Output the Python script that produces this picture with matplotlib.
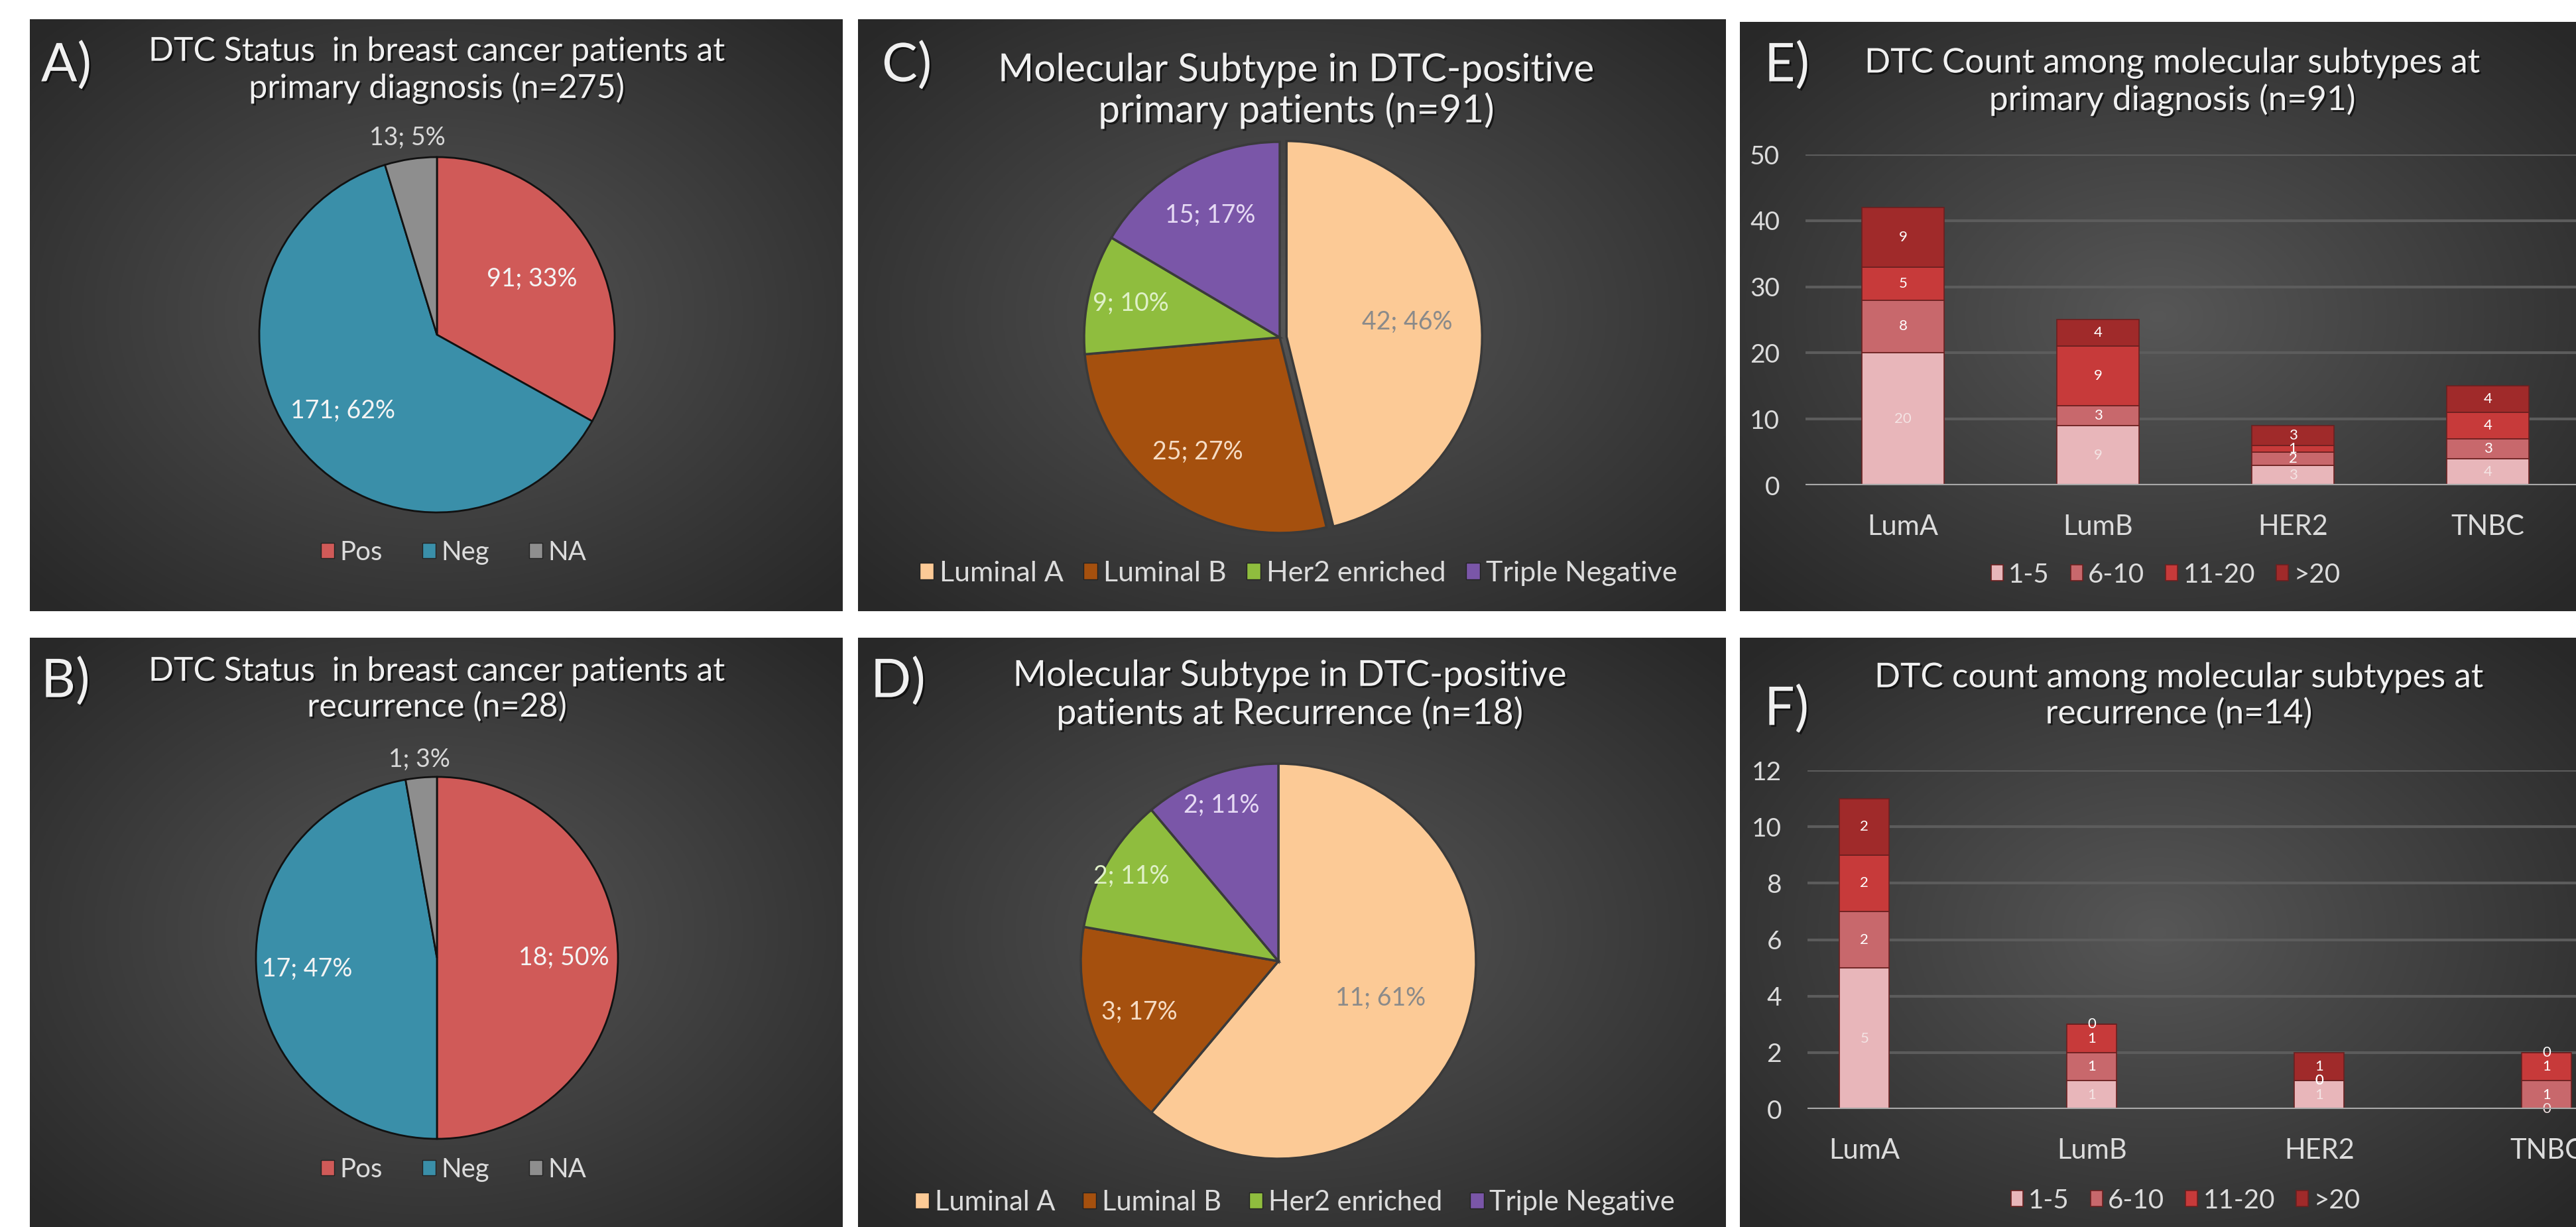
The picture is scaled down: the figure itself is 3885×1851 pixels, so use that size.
import numpy as np
import matplotlib.pyplot as plt
from matplotlib.patches import Patch
import matplotlib.patheffects as pe

W, H = 3885, 1851
plt.rcParams['font.family'] = ['Lato', 'DejaVu Sans']

# -------------------------
# Data
# -------------------------
status_labels = ['Pos', 'Neg', 'NA']
status_primary = [91, 171, 13]
status_primary_pct = ['33%', '62%', '5%']
status_recur = [18, 17, 1]
status_recur_pct = ['50%', '47%', '3%']

subtype_labels = ['Luminal A', 'Luminal B', 'Her2 enriched', 'Triple Negative']
subtype_primary = [42, 25, 9, 15]
subtype_primary_pct = ['46%', '27%', '10%', '17%']
subtype_recur = [11, 3, 2, 2]
subtype_recur_pct = ['61%', '17%', '11%', '11%']

categories = ['LumA', 'LumB', 'HER2', 'TNBC']
count_bins = ['1-5', '6-10', '11-20', '>20']
prim_1_5 = [20, 9, 3, 4]
prim_6_10 = [8, 3, 2, 3]
prim_11_20 = [5, 9, 1, 4]
prim_gt20 = [9, 4, 3, 4]
rec_1_5 = [5, 1, 1, 0]
rec_6_10 = [2, 1, 0, 1]
rec_11_20 = [2, 1, 0, 1]
rec_gt20 = [2, 0, 1, 0]

# -------------------------
# Styles
# -------------------------
status_colors = ['#d05a58', '#3a8fa9', '#8e8e8e']
subtype_colors = ['#fcca96', '#a5500e', '#8fbd3e', '#7a56a8']
bin_colors = ['#e8b6ba', '#c8686c', '#c73a3a', '#a02a2a']
bin_label_colors = ['#f4e4e4', '#ffffff', '#ffffff', '#ffffff']
txt = '#dcdcdc'

fig = plt.figure(figsize=(W / 100, H / 100), dpi=100, facecolor='white')

# panel backgrounds (radial gradient)
bg = fig.add_axes([0, 0, 1, 1])
bg.set_xlim(0, W)
bg.set_ylim(H, 0)
bg.axis('off')
panels = [(45, 1271, 30, 922), (1294, 2603, 30, 922), (2624, 3885, 34, 922),
          (45, 1271, 962, 1851), (1294, 2603, 962, 1851), (2624, 3885, 962, 1851)]
yy, xx = np.mgrid[-1:1:300j, -1:1:300j]
rr = np.clip(np.sqrt(xx ** 2 + yy ** 2) / 1.35, 0, 1)
c0, c1 = np.array([0.34, 0.34, 0.34]), np.array([0.16, 0.16, 0.16])
grad = c0[None, None, :] * (1 - rr[..., None]) + c1[None, None, :] * rr[..., None]
for x0, x1, y0, y1 in panels:
    bg.imshow(grad, extent=[x0, x1, y1, y0], aspect='auto', zorder=0)

shadow = [pe.withSimplePatchShadow(offset=(2, -2), shadow_rgbFace='black', alpha=0.6)]


def fig_text(x, y, s, size, **kw):
    fig.text(x / W, 1 - y / H, s, fontsize=size, color='#f0f0f0',
             ha=kw.pop('ha', 'center'), va='center', path_effects=shadow, **kw)


def add_pie(cx, cy, r, values, pcts, colors, dists, lab_colors, explode=None,
            edge='#111111', lw=2.0):
    s = 1.3 * r
    ax = fig.add_axes([(cx - s) / W, 1 - (cy + s) / H, 2 * s / W, 2 * s / H])
    wedges, _ = ax.pie(values, colors=colors, startangle=90, counterclock=False,
                       radius=1, explode=explode,
                       wedgeprops=dict(edgecolor=edge, linewidth=lw))
    for w, v, p, d, lc in zip(wedges, values, pcts, dists, lab_colors):
        ang = np.deg2rad((w.theta1 + w.theta2) / 2)
        ax.text(w.center[0] + d * np.cos(ang), w.center[1] + d * np.sin(ang),
                f'{v}; {p}', ha='center', va='center', fontsize=27, color=lc)
    ax.set_xlim(-1.3, 1.3)
    ax.set_ylim(-1.3, 1.3)
    ax.set_aspect('equal')
    ax.axis('off')
    return ax


def pie_legend(x, y, labels, colors, size=29, spacing=1.2):
    handles = [Patch(facecolor=c, edgecolor='#222222') for c in colors]
    fig.legend(handles, labels, loc='center', bbox_to_anchor=(x / W, 1 - y / H),
               ncol=len(labels), frameon=False, fontsize=size, labelcolor=txt,
               handlelength=0.5, handleheight=0.5, handletextpad=0.2,
               columnspacing=spacing)


# -------------------------
# A / B: DTC status
# -------------------------
fig_text(62, 99, 'A)', 58, ha='left')
fig_text(659, 106, 'DTC Status  in breast cancer patients at\nprimary diagnosis (n=275)', 36,
         linespacing=1.2)
add_pie(659, 505, 268, status_primary, status_primary_pct, status_colors,
        [0.62, 0.68, 1.12], ['#f4f4f4', '#f4f4f4', '#d8d8d8'])
pie_legend(684, 833, status_labels, status_colors, spacing=1.5)

fig_text(62, 1028, 'B)', 58, ha='left')
fig_text(659, 1040, 'DTC Status  in breast cancer patients at\nrecurrence (n=28)', 36,
         linespacing=1.2)
add_pie(659, 1445, 273, status_recur, status_recur_pct, status_colors,
        [0.7, 0.72, 1.1], ['#f4f4f4', '#f4f4f4', '#d8d8d8'])
pie_legend(684, 1764, status_labels, status_colors, spacing=1.5)

# -------------------------
# C / D: molecular subtype
# -------------------------
fig_text(1330, 99, 'C)', 58, ha='left')
fig_text(1955, 137, 'Molecular Subtype in DTC-positive\nprimary patients (n=91)', 42,
         linespacing=1.15)
add_pie(1930, 509, 295, subtype_primary, subtype_primary_pct, subtype_colors,
        [0.62, 0.72, 0.78, 0.72], ['#8a8a8a', '#f6dcc4', '#dff0c8', '#e6daf4'],
        explode=[0.035, 0, 0, 0], edge='#3a3a3a', lw=2.5)
pie_legend(1958, 865, subtype_labels, subtype_colors, size=31, spacing=0.7)

fig_text(1313, 1028, 'D)', 58, ha='left')
fig_text(1945, 1048, 'Molecular Subtype in DTC-positive\npatients at Recurrence (n=18)', 39,
         linespacing=1.15)
add_pie(1928, 1450, 298, subtype_recur, subtype_recur_pct, subtype_colors,
        [0.55, 0.75, 0.86, 0.84], ['#8a8a8a', '#f6dcc4', '#dff0c8', '#e6daf4'],
        edge='#3a3a3a', lw=2.5)
pie_legend(1953, 1814, subtype_labels, subtype_colors, size=30, spacing=1.0)


# -------------------------
# E / F: DTC count bars
# -------------------------
def add_bars(rect, xlim, ylim, step, series, width):
    ax = fig.add_axes(rect)
    ax.set_facecolor('none')
    x = np.arange(len(categories))
    bottom = np.zeros(len(categories))
    for vals, name, col, lc in zip(series, count_bins, bin_colors, bin_label_colors):
        bars = ax.bar(x, vals, width, bottom=bottom, color=col, edgecolor='#6a2020',
                      linewidth=1.2, label=name, zorder=3)
        ax.bar_label(bars, labels=[str(v) for v in vals], label_type='center',
                     fontsize=16, color=lc, zorder=4)
        bottom += np.array(vals)
    ax.set_xlim(*xlim)
    ax.set_ylim(*ylim)
    ax.set_yticks(np.arange(ylim[0], ylim[1] + 0.1, step))
    ax.set_xticks(x, categories)
    ax.grid(axis='y', color='#5c5c5c', linewidth=3, zorder=0)
    ax.axhline(0, color='#a8a8a8', linewidth=3, zorder=5)
    for sp in ax.spines.values():
        sp.set_visible(False)
    ax.tick_params(axis='y', length=0, pad=28, labelsize=28, labelcolor=txt)
    ax.tick_params(axis='x', length=0, pad=32, labelsize=30, labelcolor=txt)
    return ax


fig_text(2661, 99, 'E)', 58, ha='left')
fig_text(3276, 124, 'DTC Count among molecular subtypes at\nprimary diagnosis (n=91)', 37,
         linespacing=1.2)
axE = add_bars([2723 / W, 1 - 732 / H, (W - 2723) / W, (732 - 233) / H],
               (-0.5, (W - 2723) / 294 - 0.5), (0, 50), 10,
               [prim_1_5, prim_6_10, prim_11_20, prim_gt20], 0.42)
handles, labels = axE.get_legend_handles_labels()
fig.legend(handles, labels, loc='center', bbox_to_anchor=(3266 / W, 1 - 867 / H),
           ncol=4, frameon=False, fontsize=29, labelcolor=txt, handlelength=0.45,
           handleheight=0.55, handletextpad=0.2, columnspacing=0.8)

fig_text(2661, 1070, 'F)', 58, ha='left')
fig_text(3286, 1050, 'DTC count among molecular subtypes at\nrecurrence (n=14)', 37,
         linespacing=1.2)
axF = add_bars([2726 / W, 1 - 1673 / H, (W - 2726) / W, (1673 - 1162) / H],
               (-0.25, (W - 2726) / 343 - 0.25), (0, 12), 2,
               [rec_1_5, rec_6_10, rec_11_20, rec_gt20], 0.22)
handles, labels = axF.get_legend_handles_labels()
fig.legend(handles, labels, loc='center', bbox_to_anchor=(3296 / W, 1 - 1811 / H),
           ncol=4, frameon=False, fontsize=29, labelcolor=txt, handlelength=0.45,
           handleheight=0.55, handletextpad=0.2, columnspacing=0.8)

fig.savefig('out.png', dpi=100, facecolor='white')
